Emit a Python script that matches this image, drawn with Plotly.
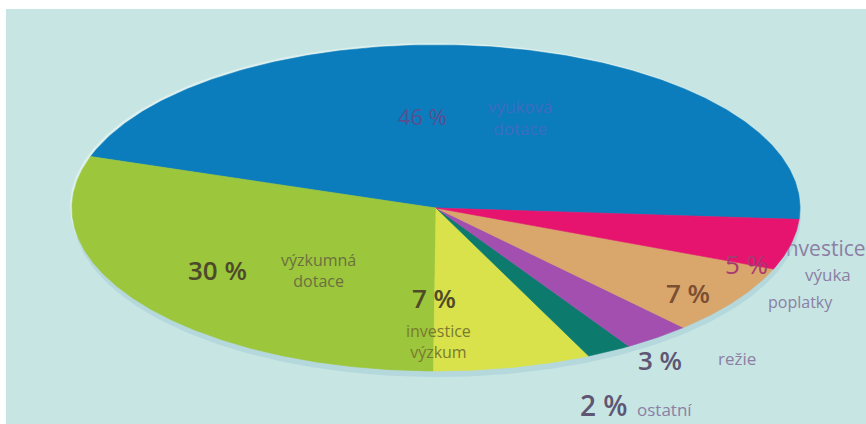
import numpy as np
import plotly.graph_objects as go

# ---- data ----
categories = ["výuková dotace", "výzkumná dotace", "investice výzkum", "ostatní",
              "režie", "poplatky", "investice výuka"]
values = [46, 30, 7, 2, 3, 7, 5]
pct_labels = ["46 %", "30 %", "7 %", "2 %", "3 %", "7 %", "5 %"]
colors = ["#0b7cbc", "#9cc63b", "#d9e24a", "#0d7a6e", "#a24fb0", "#d9a66c", "#e6146e"]

# ---- geometry (layout only) ----
W, H = 866, 424
CX, CY, RX, RY = 436, 208, 364, 163
START = -4.0  # degrees, counter-clockwise from 3 o'clock

def ell(theta_deg, dx=0, dy=0, sx=1.0, sy=1.0):
    t = np.radians(theta_deg)
    return CX + dx + RX * sx * np.cos(t), CY + dy - RY * sy * np.sin(t)

fig = go.Figure()

# text that sits partly under the pink slice (base axes, drawn below the pie)
fig.add_trace(go.Scatter(x=[823], y=[251], mode="text", text=["investice"],
                         textfont=dict(family="Open Sans", size=21, color="#8c7fa3"),
                         hoverinfo="skip", showlegend=False, cliponaxis=False,
                         xaxis="x", yaxis="y"))

# soft halo / shadow around the ellipse
tt = np.linspace(0, 360, 361)
hx, hy = ell(tt, dx=-2, dy=-2)
fig.add_trace(go.Scatter(x=hx, y=hy, fill="toself", fillcolor="#dcf0ee",
                         line=dict(width=0), mode="lines", hoverinfo="skip", showlegend=False,
                         xaxis="x2", yaxis="y2"))
sx_, sy_ = ell(tt, dx=1, dy=6)
fig.add_trace(go.Scatter(x=sx_, y=sy_, fill="toself", fillcolor="rgba(160,200,212,0.45)",
                         line=dict(width=0), mode="lines", hoverinfo="skip", showlegend=False,
                         xaxis="x2", yaxis="y2"))

# slices
total = sum(values)
a0 = START
for cat, v, col in zip(categories, values, colors):
    a1 = a0 + 360.0 * v / total
    th = np.linspace(a0, a1, max(8, int(abs(a1 - a0) * 2)))
    px, py = ell(th)
    xs = np.concatenate([[CX], px, [CX]])
    ys = np.concatenate([[CY], py, [CY]])
    fig.add_trace(go.Scatter(x=xs, y=ys, fill="toself", fillcolor=col, mode="lines",
                             line=dict(width=0.6, color=col), name=cat,
                             hovertemplate=f"{cat}: {v} %<extra></extra>", showlegend=False,
                             xaxis="x2", yaxis="y2"))
    a0 = a1

F = "Open Sans"
ann = [
    # (x, y, text, size, color, weight)
    (422, 116, pct_labels[0], 22, "#5a4f92", 400),
    (520, 117, "výuková<br>dotace", 17, "#3f6cc0", 400),
    (217, 270, pct_labels[1], 26, "#4d4a2c", 600),
    (318, 270, "výzkumná<br>dotace", 16, "#6b7040", 400),
    (434, 298, pct_labels[2], 26, "#4f4a28", 600),
    (438, 341, "investice<br>výzkum", 16, "#7a7a30", 400),
    (688, 293, pct_labels[5], 26, "#7a4f32", 600),
    (800, 302, "poplatky", 16, "#8c7fa3", 400),
    (746, 264, pct_labels[6], 26, "#a83a72", 400),
    (828, 274, "výuka", 17, "#8c7fa3", 400),
    (660, 360, pct_labels[4], 26, "#5e5672", 600),
    (737, 358, "režie", 17, "#8c7fa3", 400),
    (603, 405, pct_labels[3], 28, "#5e5672", 600),
    (664, 409, "ostatní", 17, "#8c7fa3", 400),
]
for x, y, t, s, c, wgt in ann:
    fig.add_annotation(x=x, y=y, text=t, showarrow=False, xref="x", yref="y",
                       font=dict(family=F, size=s, color=c, weight=wgt))

fig.update_layout(
    width=W, height=H, margin=dict(l=0, r=0, t=0, b=0),
    paper_bgcolor="#ffffff", plot_bgcolor="rgba(0,0,0,0)",
    xaxis=dict(range=[0, W], visible=False, fixedrange=True),
    yaxis=dict(range=[H, 0], visible=False, fixedrange=True),
    xaxis2=dict(range=[0, W], visible=False, fixedrange=True, overlaying="x"),
    yaxis2=dict(range=[H, 0], visible=False, fixedrange=True, overlaying="y"),
    shapes=[dict(type="rect", xref="paper", yref="paper", x0=6 / W, x1=1, y0=0, y1=1 - 9 / H,
                 fillcolor="#c6e5e3", line=dict(width=0), layer="below")],
)

fig.write_html("out.html", config={"displayModeBar": False},
               post_script="document.body.style.margin='0';")
